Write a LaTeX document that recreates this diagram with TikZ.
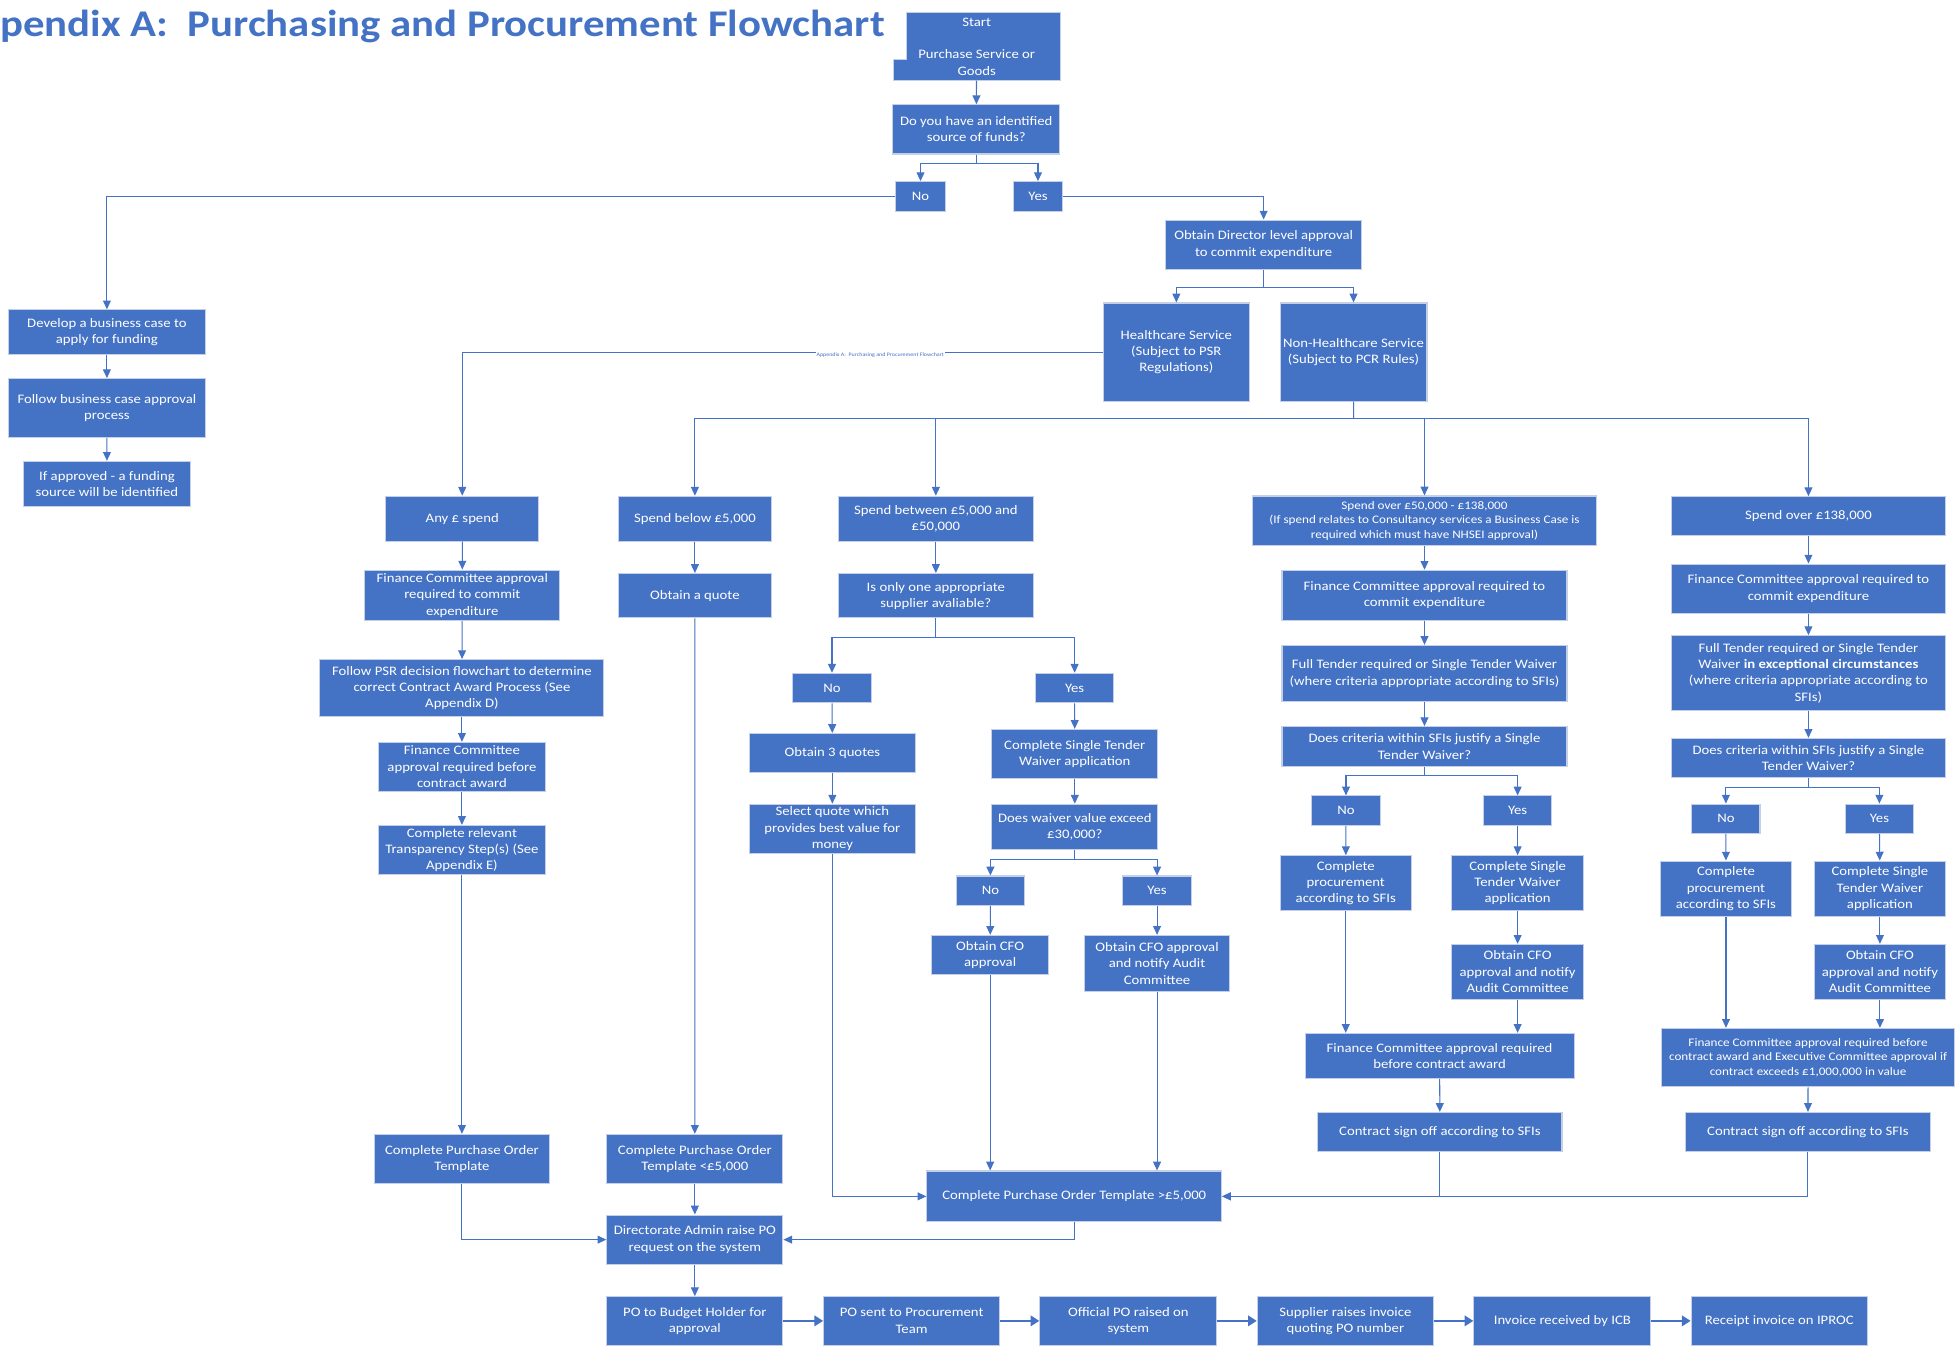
\documentclass[tikz,border=0pt]{standalone}
\usepackage{fontspec}
\setmainfont{Carlito}[FakeStretch=1.135]
\usetikzlibrary{arrows.meta}
\definecolor{boxblue}{HTML}{4472C4}
\definecolor{edge}{HTML}{C5D0E6}
\definecolor{linkblue}{HTML}{4472C4}
\tikzset{
  box/.style={rectangle, fill=boxblue, draw=edge, line width=0.6pt, text=white, align=center, inner sep=0pt, font=\fontsize{7.4}{9.3}\selectfont},
  small/.style={font=\fontsize{6.6}{8.4}\selectfont},
  link/.style={draw=linkblue, line width=0.6pt},
  arr/.style={link, -{Triangle[width=4.5pt,length=5pt]}},
  fat/.style={draw=linkblue, line width=1.2pt, -{Triangle[width=6pt,length=5pt]}},
  title/.style={text=boxblue, font=\fontsize{21.5}{24}\selectfont\bfseries, anchor=base west, inner sep=0pt},
  tag/.style={text=boxblue, fill=white, font=\fontsize{3}{3.5}\selectfont, inner sep=0.6pt}
}
\newcommand{\pbox}[7][]{%
  \node[box, minimum width={(#5-#3)*0.025cm}, minimum height={(#6-#4)*0.025cm}, #1]
    (#2) at ({(#3+#5)/2},{(#4+#6)/2}) {#7};}

\begin{document}
\begin{tikzpicture}[x=0.025cm, y=-0.025cm]
  \useasboundingbox (0,0) rectangle (1568,1084);
  \node[title] (ttl) at (0,29) {pendix A:\ \ Purchasing and Procurement Flowchart};

  % start box has a step on its left edge
  \path[fill=boxblue, draw=edge, line width=0.6pt] (726.7,10.2) -- (850.2,10.2) -- (850.2,64.2)
    -- (716.5,64.2) -- (716.5,48) -- (726.7,48) -- cycle;
  \pbox[fill=none, draw=none]{start}{716.5}{10.2}{850.2}{64.2}{Start\\[9.3pt]Purchase Service or\\Goods}
  \pbox{q1}{716}{84}{850}{123.5}{Do you have an identified\\source of funds?}
  \pbox{no1}{718.6}{145.7}{758}{169.8}{No}
  \pbox{yes1}{813}{145.7}{852}{169.8}{Yes}
  \pbox{dir}{935}{176.5}{1092}{216}{Obtain Director level approval\\to commit expenditure}
  \pbox{hc}{885}{243}{1002}{321.7}{Healthcare Service\\(Subject to PSR\\Regulations)}
  \pbox{nhc}{1026.7}{243}{1144.5}{321.7}{Non-Healthcare Service\\(Subject to PCR Rules)}

  % no funds
  \pbox{dev}{6.7}{248.5}{164.8}{284.4}{Develop a business case to\\apply for funding}
  \pbox{fol}{6.7}{303.7}{164.8}{350.7}{Follow business case approval\\process}
  \pbox{ifa}{19.1}{370}{152.5}{406}{If approved - a funding\\source will be identified}

  % spend bands
  \pbox{any}{309.4}{398}{432.1}{434}{Any £ spend}
  \pbox{sb}{495.7}{398}{619}{434}{Spend below £5,000}
  \pbox{sbt}{672.4}{398}{828.8}{434}{Spend between £5,000 and\\£50,000}
  \pbox[small]{s50}{1004.7}{397.8}{1280.3}{437.7}{Spend over £50,000 - £138,000\\(If spend relates to Consultancy services a Business Case is\\required which must have NHSEI approval)}
  \pbox{s138}{1340.3}{398.4}{1560.6}{429.4}{Spend over £138,000}

  % any spend
  \pbox{fc1}{292.6}{457.2}{449}{497.7}{Finance Committee approval\\required to commit\\expenditure}
  \pbox{psr}{256.6}{529}{484.4}{574.5}{Follow PSR decision flowchart to determine\\correct Contract Award Process (See\\Appendix D)}
  \pbox{fcb1}{303.8}{595.4}{437.2}{634.7}{Finance Committee\\approval required before\\contract award}
  \pbox{tr1}{303.8}{662}{437.2}{701.3}{Complete relevant\\Transparency Step(s) (See\\Appendix E)}
  \pbox{po1}{300.4}{909.8}{440.6}{949}{Complete Purchase Order\\Template}

  % below 5000
  \pbox{quote}{495.7}{460}{619}{495.6}{Obtain a quote}
  \pbox{po5}{486.7}{909.8}{627.9}{949}{Complete Purchase Order\\Template <£5,000}

  % 5000 to 50000
  \pbox{one}{672.4}{460}{828.8}{495.6}{Is only one appropriate\\supplier avaliable?}
  \pbox{no2}{635.8}{540}{698.8}{563.8}{No}
  \pbox{yes2}{830.4}{540}{893.4}{563.8}{Yes}
  \pbox{q3}{600.9}{588.3}{734.3}{619.6}{Obtain 3 quotes}
  \pbox{sel}{600.9}{645}{734.3}{684.4}{Select quote which\\provides best value for\\money}
  \pbox{stw}{795.6}{585}{928.5}{624.3}{Complete Single Tender\\Waiver application}
  \pbox{wv}{795.6}{645}{928.5}{681.3}{Does waiver value exceed\\£30,000?}
  \pbox{no3}{767}{702.6}{821.7}{726.1}{No}
  \pbox{yes3}{900.5}{702.6}{955.5}{726.1}{Yes}
  \pbox{cfo}{747.2}{750.2}{841.1}{781.5}{Obtain CFO\\approval}
  \pbox{cfon}{869.7}{750.2}{986.3}{795}{Obtain CFO approval\\and notify Audit\\Committee}
  \pbox{pobig}{743.4}{939.2}{979.8}{979.9}{Complete Purchase Order Template >£5,000}

  % 50000 to 138000
  \pbox{fc4}{1028.2}{457.4}{1256.8}{497.3}{Finance Committee approval required to\\commit expenditure}
  \pbox{ft4}{1028.2}{517.6}{1256.8}{562.8}{Full Tender required or Single Tender Waiver\\(where criteria appropriate according to SFIs)}
  \pbox{dc4}{1028.2}{582.8}{1256.8}{614.9}{Does criteria within SFIs justify a Single\\Tender Waiver?}
  \pbox{no4}{1052.2}{638.4}{1106.9}{662}{No}
  \pbox{yes4}{1189.8}{638.4}{1244.6}{662}{Yes}
  \pbox{cp4}{1026.7}{686.3}{1132}{730.4}{Complete\\procurement\\according to SFIs}
  \pbox{stw4}{1164.3}{686.3}{1270.1}{730.4}{Complete Single\\Tender Waiver\\application}
  \pbox{cfo4}{1164.3}{757.4}{1270.1}{801.5}{Obtain CFO\\approval and notify\\Audit Committee}
  \pbox{fcb4}{1046.7}{828.8}{1262.5}{864.9}{Finance Committee approval required\\before contract award}
  \pbox{cs4}{1057}{892.2}{1252.8}{923.4}{Contract sign off according to SFIs}

  % over 138000
  \pbox{fc5}{1340.3}{452.4}{1560.6}{491.7}{Finance Committee approval required to\\commit expenditure}
  \pbox{ft5}{1340.3}{509.8}{1560.6}{569.7}{Full Tender required or Single Tender\\Waiver \textbf{in exceptional circumstances}\\(where criteria appropriate according to\\SFIs)}
  \pbox{dc5}{1340.3}{592.2}{1560.6}{623.7}{Does criteria within SFIs justify a Single\\Tender Waiver?}
  \pbox{no5}{1356.9}{644.9}{1411.6}{668.4}{No}
  \pbox{yes5}{1480}{644.9}{1534.7}{668.4}{Yes}
  \pbox{cp5}{1331.7}{690.6}{1436.9}{735}{Complete\\procurement\\according to SFIs}
  \pbox{stw5}{1455.2}{690.6}{1560.4}{735}{Complete Single\\Tender Waiver\\application}
  \pbox{cfo5}{1455.2}{757.4}{1560.4}{801.5}{Obtain CFO\\approval and notify\\Audit Committee}
  \pbox[small]{fcb5}{1332.7}{824.8}{1567.6}{871.6}{Finance Committee approval required before\\contract award and Executive Committee approval if\\contract exceeds £1,000,000 in value}
  \pbox{cs5}{1352.1}{892.2}{1548}{923.4}{Contract sign off according to SFIs}

  % raising the order
  \pbox{adm}{486.7}{974.5}{627.9}{1014}{Directorate Admin raise PO\\request on the system}
  \pbox{bh}{486.7}{1040}{627.9}{1078.8}{PO to Budget Holder for\\approval}
  \pbox{pst}{660.6}{1040}{801.7}{1078.8}{PO sent to Procurement\\Team}
  \pbox{opo}{834}{1040}{976}{1078.8}{Official PO raised on\\system}
  \pbox{sup}{1008.4}{1040}{1149.7}{1078.8}{Supplier raises invoice\\quoting PO number}
  \pbox{icb}{1182.1}{1040}{1324}{1078.8}{Invoice received by ICB}
  \pbox{rcp}{1356.4}{1040}{1497.8}{1078.8}{Receipt invoice on IPROC}

  % connectors
  \draw[arr] (start) -- (q1);
  \draw[arr] (q1.south) -- ++(0,7) -| (no1);
  \draw[arr] (q1.south) -- ++(0,7) -| (yes1);
  \draw[arr] (no1.west) -| (dev);
  \draw[arr] (dev) -- (fol);
  \draw[arr] (fol) -- (ifa);
  \draw[arr] (yes1.east) -| (dir);
  \draw[arr] (dir.south) -- ++(0,14) -| (hc);
  \draw[arr] (dir.south) -- ++(0,14) -| (nhc);
  \draw[arr] (hc.west) -| (any);
  \node[tag] (tag) at (706,284.6) {Appendix A:\ \ Purchasing and Procurement Flowchart};
  \coordinate (bus) at (1085.6,336);
  \draw[link] (nhc) -- (bus);
  \draw[arr] (bus) -| (sb);
  \draw[arr] (bus) -| (sbt);
  \draw[arr] (bus) -| (s50);
  \draw[arr] (bus) -| (s138);

  \draw[arr] (any) -- (fc1);
  \draw[arr] (fc1) -- (psr);
  \draw[arr] (psr) -- (fcb1);
  \draw[arr] (fcb1) -- (tr1);
  \draw[arr] (tr1) -- (po1);
  \draw[arr] (po1) |- (adm);

  \draw[arr] (sb) -- (quote);
  \draw[arr] (quote) -- (po5);
  \draw[arr] (po5) -- (adm);

  \draw[arr] (sbt) -- (one);
  \draw[arr] (one.south) -- ++(0,15) -| (no2);
  \draw[arr] (one.south) -- ++(0,15) -| (yes2);
  \draw[arr] (no2) -- (q3);
  \draw[arr] (q3) -- (sel);
  \draw[arr] (sel) |- (pobig);
  \draw[arr] (yes2) -- (stw);
  \draw[arr] (stw) -- (wv);
  \draw[arr] (wv.south) -- ++(0,7.3) -| (no3);
  \draw[arr] (wv.south) -- ++(0,7.3) -| (yes3);
  \draw[arr] (no3) -- (cfo);
  \draw[arr] (yes3) -- (cfon);
  \draw[arr] (cfo) -- (cfo |- pobig.north);
  \draw[arr] (cfon) -- (cfon |- pobig.north);
  \draw[arr] (pobig) |- (adm);

  \draw[arr] (s50) -- (fc4);
  \draw[arr] (fc4) -- (ft4);
  \draw[arr] (ft4) -- (dc4);
  \draw[arr] (dc4.south) -- ++(0,7) -| (no4);
  \draw[arr] (dc4.south) -- ++(0,7) -| (yes4);
  \draw[arr] (no4) -- (cp4);
  \draw[arr] (yes4) -- (stw4);
  \draw[arr] (stw4) -- (cfo4);
  \draw[arr] (cp4) -- (cp4 |- fcb4.north);
  \draw[arr] (cfo4) -- (cfo4 |- fcb4.north);
  \draw[arr] (fcb4) -- (cs4);
  \draw[arr] (cs4) |- (pobig);

  \draw[arr] (s138) -- (fc5);
  \draw[arr] (fc5) -- (ft5);
  \draw[arr] (ft5) -- (dc5);
  \draw[arr] (dc5.south) -- ++(0,7.5) -| (no5);
  \draw[arr] (dc5.south) -- ++(0,7.5) -| (yes5);
  \draw[arr] (no5) -- (cp5);
  \draw[arr] (yes5) -- (stw5);
  \draw[arr] (stw5) -- (cfo5);
  \draw[arr] (cp5) -- (cp5 |- fcb5.north);
  \draw[arr] (cfo5) -- (cfo5 |- fcb5.north);
  \draw[arr] (fcb5) -- (cs5);
  \draw[arr] (cs5) |- (pobig);

  \draw[arr] (adm) -- (bh);
  \draw[fat] (bh) -- (pst);
  \draw[fat] (pst) -- (opo);
  \draw[fat] (opo) -- (sup);
  \draw[fat] (sup) -- (icb);
  \draw[fat] (icb) -- (rcp);
\end{tikzpicture}
\end{document}
